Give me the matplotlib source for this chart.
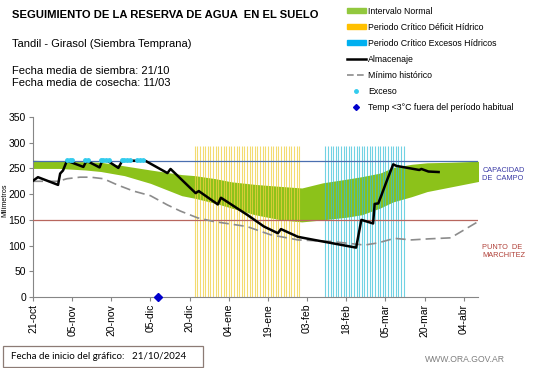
import numpy as np
import matplotlib.pyplot as plt
from matplotlib.lines import Line2D
from matplotlib.patches import Patch, Rectangle

plt.rcParams['font.family'] = ['Liberation Sans', 'DejaVu Sans']

# days since 21-oct-2024
band_days = [0, 10, 20, 26, 35, 45, 57, 62, 70, 76, 85, 95, 103, 111, 120, 126, 133, 138, 145, 151, 160, 171]
band_upper = [266, 264, 263, 262, 255, 247, 238, 236, 230, 224, 219, 215, 212, 222, 229, 234, 241, 252, 258, 261, 262, 264]
band_lower = [250, 250, 247, 244, 236, 221, 197, 192, 182, 173, 160, 150, 146, 150, 155, 160, 173, 185, 195, 205, 214, 225]

alm_days = [0, 1.9, 9.6, 10.4, 11.5, 13, 19.3, 20.5, 25.5, 26.5, 28.5, 32.7, 34.2, 43, 51.5, 52.7,
            62.3, 63.5, 70.8, 72, 82.3, 88.5, 93.8, 95, 101.5, 107.7, 114.2, 123.8, 125.8, 130.3,
            130.9, 132.3, 133.5, 135.4, 138, 139.2, 148, 148.8, 151.5, 155.4]
alm_vals = [226, 233, 218, 240, 246, 265, 253, 265, 252, 265, 265, 251, 265, 265, 241, 249,
            202, 206, 180, 193, 159, 137, 124, 132, 117, 111, 105, 96, 150, 143,
            181, 182, 198, 224, 258, 255, 247, 249, 244, 243]

min_days = [0, 9.6, 13, 18, 22, 27, 32.3, 38.5, 45, 51.5, 56.5, 63, 69, 82, 91, 101.5, 114, 127, 132,
            138.5, 145, 151.5, 160, 171]
min_vals = [225, 225, 230, 233, 233, 230, 218, 206, 197, 179, 167, 154, 147, 137, 121, 111, 108, 101, 105,
            114, 111, 113, 115, 148]

exceso_days = [13, 14, 15, 20, 21, 26, 27, 28, 29, 34, 35, 36, 37, 40, 41, 42]
exceso_vals = [266] * len(exceso_days)

deficit_days = np.arange(62, 103)
excesos_days = np.arange(112, 143)

temp_days = [48]
temp_vals = [0]

capacidad = 265
marchitez = 150

tick_days = [0, 15, 30, 45, 60, 75, 90, 105, 120, 135, 150, 165]
tick_labels = ['21-oct', '05-nov', '20-nov', '05-dic', '20-dic', '04-ene', '19-ene',
               '03-feb', '18-feb', '05-mar', '20-mar', '04-abr']

fig = plt.figure(figsize=(5.41, 3.68), dpi=100)
ax = fig.add_axes([0.061, 0.193, 0.8226, 0.489])

ax.fill_between(band_days, band_lower, band_upper, color='#8cc21a', lw=0, zorder=1)
ax.vlines(deficit_days, 0, 293, color='#f0d040', lw=0.8, alpha=0.75, zorder=2)
ax.vlines(excesos_days, 0, 293, color='#35bfd8', lw=0.8, alpha=0.7, zorder=2)
ax.axhline(capacidad, color='#4a6fb0', lw=0.9, zorder=3)
ax.axhline(marchitez, color='#b8665e', lw=0.9, zorder=3)
ax.plot(min_days, min_vals, color='#8c8c8c', lw=1.2, ls=(0, (6, 3)), zorder=4)
ax.plot(alm_days, alm_vals, color='black', lw=1.8, zorder=5)
ax.plot(exceso_days, exceso_vals, ls='none', marker='o', ms=2.5, color='#33ccee', zorder=6)
ax.plot(temp_days, temp_vals, ls='none', marker='D', ms=4, color='#0000cc', zorder=7, clip_on=False)

ax.set_xlim(0, 170.5)
ax.set_ylim(0, 350)
ax.set_yticks(range(0, 351, 50))
ax.set_xticks(tick_days)
ax.set_xticklabels(tick_labels, rotation=90)
ax.tick_params(labelsize=7.5, length=3, color='#868686', pad=2)
for s in ['top', 'right']:
    ax.spines[s].set_visible(False)
for s in ['left', 'bottom']:
    ax.spines[s].set_color('#868686')
ax.set_ylabel('Milímetros', fontsize=5.2)
ax.yaxis.set_label_coords(-0.056, 0.54)

ax.text(1.01, 238, 'CAPACIDAD\nDE  CAMPO', transform=ax.get_yaxis_transform(),
        color='#3b3ba6', fontsize=5.3, va='center', linespacing=1.2)
ax.text(1.01, 89, 'PUNTO  DE\nMARCHITEZ', transform=ax.get_yaxis_transform(),
        color='#b04038', fontsize=5.3, va='center', linespacing=1.2)

fig.text(0.022, 0.959, 'SEGUIMIENTO DE LA RESERVA DE AGUA  EN EL SUELO', fontsize=8.1,
         fontweight='bold', va='center')
fig.text(0.022, 0.880, 'Tandil - Girasol (Siembra Temprana)', fontsize=8, va='center')
fig.text(0.022, 0.807, 'Fecha media de siembra: 21/10', fontsize=8, va='center')
fig.text(0.022, 0.775, 'Fecha media de cosecha: 11/03', fontsize=8, va='center')

handles = [Patch(color='#92c83e'), Patch(color='#ffc000'), Patch(color='#00b0f0'),
           Line2D([], [], color='black', lw=1.8),
           Line2D([], [], color='#8c8c8c', lw=1.2, ls=(0, (4, 2))),
           Line2D([], [], ls='none', marker='o', ms=2.5, color='#33ccee'),
           Line2D([], [], ls='none', marker='D', ms=3, color='#0000cc')]
labels = ['Intervalo Normal', 'Periodo Crítico Déficit Hídrico', 'Periodo Crítico Excesos Hídricos',
          'Almacenaje', 'Mínimo histórico', 'Exceso', 'Temp <3°C fuera del período habitual']
fig.legend(handles, labels, loc='upper left', bbox_to_anchor=(0.626, 1.003), frameon=False,
           fontsize=6.3, handlelength=2.2, handleheight=0.45, handletextpad=0.3, labelspacing=0.8)

fig.patches.append(Rectangle((0.006, 0.003), 0.37, 0.057, transform=fig.transFigure,
                             fill=False, edgecolor='#8c7b75', lw=0.9))
fig.text(0.02, 0.032, 'Fecha de inicio del gráfico:   21/10/2024', fontsize=7, va='center',
         family=['Lato', 'DejaVu Sans'])
fig.text(0.785, 0.022, 'WWW.ORA.GOV.AR', fontsize=6.2, color='#7f7f7f', va='center')

fig.savefig('out.png', dpi=100)
